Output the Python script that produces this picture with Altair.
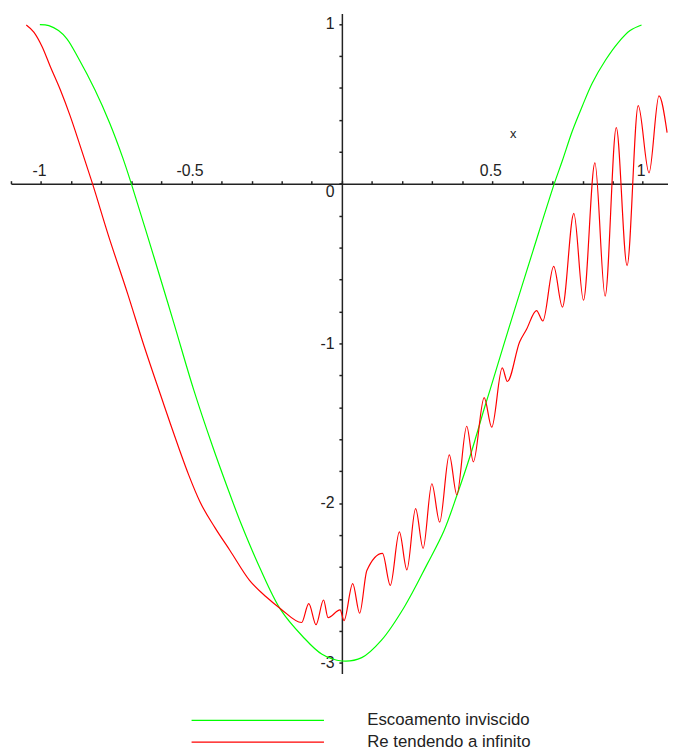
import altair as alt
import pandas as pd

# ---- data ----
green_x = [-1.004, -0.974, -0.942, -0.914, -0.877, -0.821, -0.772, -0.728, -0.700,
           -0.624, -0.558, -0.493, -0.429, -0.383, -0.335, -0.274, -0.203, -0.131,
           -0.066, 0.0, 0.066, 0.131, 0.208, 0.284, 0.339, 0.383, 0.427, 0.476,
           0.493, 0.553, 0.635, 0.706, 0.733, 0.766, 0.799, 0.832, 0.876, 0.920,
           0.958, 0.996]
green_y = [0.996, 0.990, 0.959, 0.907, 0.790, 0.588, 0.380, 0.160, 0.0,
           -0.464, -0.876, -1.288, -1.649, -1.890, -2.130, -2.400, -2.669, -2.834,
           -2.947, -2.989, -2.968, -2.860, -2.649, -2.381, -2.175, -1.948, -1.701, -1.391,
           -1.288, -0.917, -0.422, 0.0, 0.145, 0.330, 0.485, 0.629, 0.773, 0.887,
           0.959, 0.994]

red_x = [-1.049, -1.024, -0.996, -0.969, -0.936, -0.903, -0.870, -0.829, -0.777,
         -0.712, -0.657, -0.597, -0.569, -0.542, -0.509, -0.471, -0.422, -0.372,
         -0.307, -0.252, -0.203, -0.134, -0.110, -0.086, -0.061, -0.046, -0.006,
         0.007, 0.036, 0.059, 0.083, 0.135, 0.161, 0.191, 0.216, 0.245, 0.270,
         0.299, 0.325, 0.357, 0.382, 0.415, 0.437, 0.473, 0.498, 0.533, 0.550,
         0.591, 0.613, 0.647, 0.668, 0.704, 0.733, 0.771, 0.803, 0.841, 0.875,
         0.912, 0.948, 0.985, 1.021, 1.054, 1.081]
red_y = [0.994, 0.949, 0.856, 0.732, 0.588, 0.423, 0.237, 0.0, -0.319,
         -0.690, -1.020, -1.355, -1.510, -1.655, -1.825, -1.995, -2.154, -2.297,
         -2.484, -2.587, -2.663, -2.748, -2.630, -2.762, -2.607, -2.718, -2.669,
         -2.736, -2.505, -2.690, -2.422, -2.315, -2.515, -2.181, -2.418, -2.035, -2.284,
         -1.879, -2.120, -1.698, -1.948, -1.519, -1.742, -1.340, -1.525, -1.154, -1.239,
         -0.990, -0.915, -0.795, -0.860, -0.518, -0.773, -0.186, -0.730, 0.130, -0.704,
         0.351, -0.513, 0.489, 0.068, 0.550, 0.320]

series_names = ["Escoamento inviscido", "Re tendendo a infinito"]
series_colors = ["#00ff00", "#ff0000"]

x_ticks = [-1.1, -1.0, -0.9, -0.8, -0.7, -0.6, -0.5, -0.4, -0.3, -0.2, -0.1, 0.0,
           0.1, 0.2, 0.3, 0.4, 0.5, 0.6, 0.7, 0.8, 0.9, 1.0]
x_labels = [-1, -0.5, 0.5, 1]
y_ticks = [-3.0, -2.8, -2.6, -2.4, -2.2, -2.0, -1.8, -1.6, -1.4, -1.2, -1.0, -0.8,
           -0.6, -0.4, -0.2, 0.0, 0.2, 0.4, 0.6, 0.8, 1.0]
y_labels = [-3, -2, -1, 0, 1]

x_domain = [-1.1, 1.084]
y_domain = [-3.067, 1.066]

# ---- layout ----
W, H = 665, 668
off_top = H * (y_domain[1] - 0) / (y_domain[1] - y_domain[0])
off_left = W * (0 - x_domain[0]) / (x_domain[1] - x_domain[0])

green_df = pd.DataFrame({"x": green_x, "y": green_y, "series": series_names[0],
                         "i": list(range(len(green_x)))})
red_df = pd.DataFrame({"x": red_x, "y": red_y, "series": series_names[1],
                       "i": list(range(len(red_x)))})

font = "Liberation Sans"
x_expr = "indexof([" + ",".join(str(v) for v in x_labels) + "], datum.value) >= 0 ? '' + datum.value : ''"
y_expr = "indexof([" + ",".join(str(v) for v in y_labels) + "], datum.value) >= 0 ? '' + datum.value : ''"

# legend symbol: a long horizontal stroke drawn as a custom path
sym_half = 10          # path runs from -10 to +10 (in units of sqrt(size)/2)
sym_len = 134          # pixel length of the legend line
sym_side = sym_len / sym_half        # sqrt(size)
sym_size = sym_side ** 2
legend_left = 181      # left end of legend lines, relative to plot origin
label_gap = 42

x_enc = alt.X("x:Q",
              scale=alt.Scale(domain=x_domain, nice=False, zero=False),
              axis=alt.Axis(orient="top", offset=-off_top, values=x_ticks, labelExpr=x_expr,
                            tickSize=3, labelPadding=2, grid=False, labelOverlap=False, labelFlush=False,
                            domainColor="#222222", tickColor="#222222", domainWidth=1.5, tickWidth=1.5,
                            labelFont=font, labelFontSize=16, labelColor="#222222", labelOffset=-2,
                            title="x", titleX=off_left + 173, titleY=-51, titleAlign="center",
                            titleBaseline="middle", titleFont=font, titleFontSize=13,
                            titleFontWeight="normal", titleColor="#222222"))
y_enc = alt.Y("y:Q",
              scale=alt.Scale(domain=y_domain, nice=False, zero=False),
              axis=alt.Axis(orient="left", offset=-off_left, values=y_ticks, labelExpr=y_expr,
                            tickSize=3, labelPadding=5, grid=False, labelOverlap=False, labelFlush=False,
                            domainColor="#222222", tickColor="#222222", domainWidth=1.5, tickWidth=1.5,
                            labelFont=font, labelFontSize=16, labelColor="#222222",
                            labelOffset={"condition": {"test": "datum.value == 0", "value": 8}, "value": 0},
                            title=None))
color_enc = alt.Color("series:N",
                      scale=alt.Scale(domain=series_names, range=series_colors),
                      legend=alt.Legend(orient="none",
                                        legendX=legend_left + sym_len / 2 - sym_side / 2,
                                        legendY=707, title=None,
                                        symbolType="M-%d,0H%d" % (sym_half, sym_half),
                                        symbolSize=sym_size, symbolStrokeWidth=1.2,
                                        labelFont=font, labelFontSize=17, labelColor="#222222",
                                        labelLimit=0,
                                        labelOffset=sym_len / 2 - sym_side / 2 + label_gap,
                                        padding=0, rowPadding=4))

green = alt.Chart(green_df).mark_line(strokeWidth=1.2, interpolate="catmull-rom", clip=True).encode(
    x=x_enc, y=y_enc, color=color_enc, order="i:Q")
red = alt.Chart(red_df).mark_line(strokeWidth=1.2, interpolate="monotone", clip=True).encode(
    x=x_enc, y=y_enc, color=color_enc, order="i:Q")

chart = alt.layer(green, red).properties(
    width=W, height=H,
    autosize=alt.AutoSizeParams(type="none"),
    padding={"left": 3, "top": 1, "right": 0, "bottom": 74},
).configure_view(stroke=None)

chart.save("out.html", embed_options={"renderer": "svg", "actions": False})
